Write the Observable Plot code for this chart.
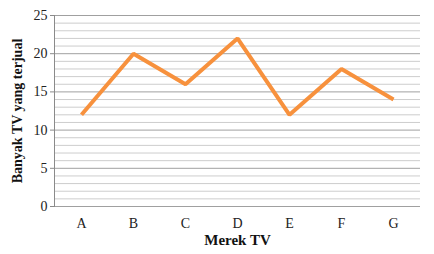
<!DOCTYPE html>
<html>
<head>
<meta charset="utf-8">
<script src="https://cdn.jsdelivr.net/npm/d3@7"></script>
<script src="https://cdn.jsdelivr.net/npm/@observablehq/plot@0.6"></script>
<style>
  html, body { margin: 0; padding: 0; background: #fff; }
  svg, svg text { font-family: 'Liberation Serif', 'Times New Roman', serif !important; }
  svg g[aria-label$="tick label"] { font-size: 14px !important; fill: #222; }
  svg g[aria-label$="tick label"] text { font-size: 14px !important; }
</style>
</head>
<body>
<div id="chart"></div>
<script>
const brands = ["A", "B", "C", "D", "E", "F", "G"];
const sold = [12, 20, 16, 22, 12, 18, 14];
const yTicks = [0, 5, 10, 15, 20, 25];
const minorGrid = d3.range(0, 26);
const xTitle = "Merek TV";
const yTitle = "Banyak TV yang terjual";

const data = brands.map((b, i) => ({brand: b, value: sold[i]}));
const font = "'Liberation Serif', 'Times New Roman', serif";

const chart = Plot.plot({
  width: 434,
  height: 254,
  marginLeft: 54,
  marginRight: 14,
  marginTop: 15,
  marginBottom: 48,
  style: {fontFamily: font, fontSize: "14px", color: "#222", background: "#fff"},
  x: {type: "point", domain: brands, padding: 0.5},
  y: {domain: [0, 25]},
  marks: [
    Plot.ruleY(minorGrid.filter(d => d % 5 !== 0), {stroke: "#cdcdcd", strokeWidth: 1}),
    Plot.ruleY(yTicks, {stroke: "#a0a0a0", strokeWidth: 1}),
    Plot.frame({anchor: "left", stroke: "#8a8a8a"}),
    Plot.axisY({ticks: yTicks, tickSize: 4, tickPadding: 3, label: null, stroke: "#8a8a8a", fontSize: 14}),
    Plot.axisX({tickSize: 0, tickPadding: 12, label: null, fontSize: 14}),
    Plot.line(data, {x: "brand", y: "value", stroke: "#f7913d", strokeWidth: 4, strokeLinejoin: "miter", strokeLinecap: "butt"}),
    Plot.text([xTitle], {frameAnchor: "bottom", dy: 38, text: d => d, fontWeight: "bold", fontSize: 15, fill: "#111"}),
    Plot.text([yTitle], {frameAnchor: "left", textAnchor: "middle", dx: -37, rotate: -90, text: d => d, fontWeight: "bold", fontSize: 14, fill: "#111"})
  ]
});
document.getElementById("chart").appendChild(chart);
</script>
</body>
</html>
